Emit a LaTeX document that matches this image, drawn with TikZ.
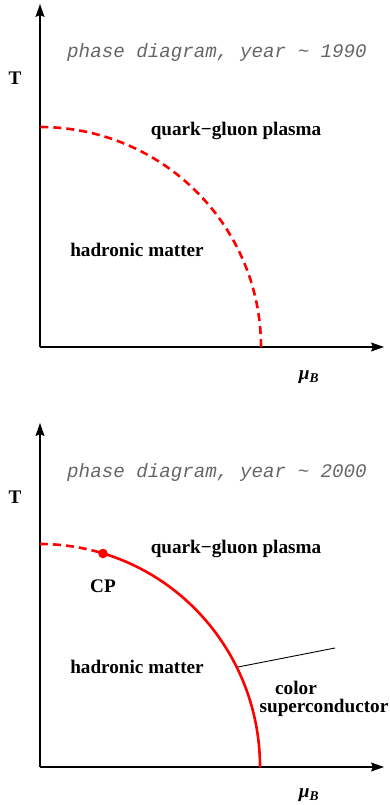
\documentclass[tikz,border=0pt]{standalone}
\usepackage{fontspec}
\setmainfont{Liberation Serif}
\setmonofont{Liberation Mono}
\usetikzlibrary{arrows.meta}
\tikzset{
  axis/.style={line width=1.2pt,-{Stealth[length=13pt,width=9pt,inset=2pt]}},
  lbl/.style={font=\fontsize{19.2}{23}\selectfont\bfseries, inner sep=0pt},
  ttl/.style={font=\fontsize{19.2}{23}\selectfont\ttfamily\itshape, text=black!60, inner sep=0pt},
  phasedash/.style={red, line width=2.6pt, dash pattern=on 8pt off 5pt},
  phasesolid/.style={red, line width=2.6pt},
}
\begin{document}
\begin{tikzpicture}[x=1pt,y=-1pt]
\useasboundingbox (0,0) rectangle (389,805);
% ---------- top diagram ----------
\coordinate (o1) at (40,347);
\coordinate (ytop1) at (40,4);
\coordinate (xend1) at (384,347);
\draw[axis] (o1) -- (ytop1);
\draw[axis] (o1) -- (xend1);
\draw[phasedash] (261,347) arc[start angle=0, end angle=-90, x radius=221, y radius=220];
\node[ttl] (title1) at (217,53) {phase diagram, year \textasciitilde{} 1990};
\node[lbl] (T1) at (15,78) {T};
\node[lbl] (qgp1) at (236,131) {quark−gluon plasma};
\node[lbl] (hm1) at (137,250) {hadronic matter};
\node[lbl, font=\fontsize{19.2}{23}\selectfont\bfseries\itshape] (mu1) at (309,377) {μ\textsubscript{B}};
% ---------- bottom diagram ----------
\coordinate (o2) at (40,767);
\coordinate (ytop2) at (40,423);
\coordinate (xend2) at (384,767);
\draw[axis] (o2) -- (ytop2);
\draw[axis] (o2) -- (xend2);
\draw[phasesolid] (260,767) arc[start angle=0, end angle=-73.4, x radius=220, y radius=223];
\draw[phasedash] (40,544) arc[start angle=-90, end angle=-73.4, x radius=220, y radius=223];
\fill[red] (103,553.5) circle (4.8);
\node[lbl] (T2) at (15,497) {T};
\node[ttl] (title2) at (217,473) {phase diagram, year \textasciitilde{} 2000};
\node[lbl] (qgp2) at (236,549) {quark−gluon plasma};
\node[lbl] (cp) at (103,586) {CP};
\node[lbl] (hm2) at (137,667) {hadronic matter};
\coordinate (p1) at (238,667);
\coordinate (p2) at (335,648);
\draw[line width=0.9pt] (p1) -- (p2);
\node[lbl, anchor=base] (col) at (296,694) {color};
\node[lbl, anchor=base] (sc) at (324,712) {superconductor};
\node[lbl, font=\fontsize{19.2}{23}\selectfont\bfseries\itshape] (mu2) at (309,795) {μ\textsubscript{B}};
\end{tikzpicture}
\end{document}
